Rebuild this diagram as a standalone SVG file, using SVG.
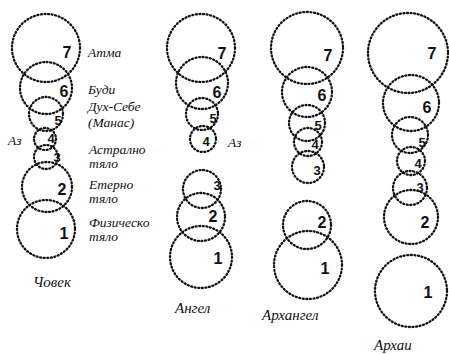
<svg xmlns="http://www.w3.org/2000/svg" width="449" height="354" viewBox="0 0 449 354">
<style>
.c{fill:none;stroke:#111;stroke-width:2.3;stroke-dasharray:1 2.6;stroke-linecap:round}
.n{font-family:"Liberation Sans",Arial,sans-serif;font-weight:bold;font-size:16px;fill:#111;text-anchor:middle}
.s{font-size:13px}
.t{font-family:"Liberation Serif","Times New Roman",serif;font-style:italic;font-size:13.5px;fill:#111}
.h{font-size:15px}
</style>
<rect width="449" height="354" fill="#fff"/>
<g id="chovek">
<g id="ch7"><circle class="c" cx="46" cy="48" r="34"/><text class="n" x="67" y="58">7</text></g>
<g id="ch6"><circle class="c" cx="46" cy="88" r="26"/><text class="n" x="64" y="97">6</text></g>
<g id="ch5"><circle class="c" cx="46" cy="114" r="17"/><text class="n s" x="58" y="125">5</text></g>
<g id="ch4"><circle class="c" cx="45" cy="139" r="11"/><text class="n s" x="51" y="143">4</text></g>
<g id="ch3"><circle class="c" cx="46" cy="157" r="12"/><text class="n s" x="57" y="162">3</text></g>
<g id="ch2"><circle class="c" cx="47" cy="187" r="25"/><text class="n" x="62" y="195">2</text></g>
<g id="ch1"><circle class="c" cx="46" cy="229" r="29"/><text class="n" x="64" y="239">1</text></g>
<text class="t" x="88" y="57">Атма</text>
<text class="t" x="88" y="94">Буди</text>
<text class="t" x="88" y="111">Дух-Себе</text>
<text class="t" x="88" y="127">(Манас)</text>
<text class="t" x="8" y="145">Аз</text>
<text class="t" x="89" y="154">Астрално</text>
<text class="t" x="89" y="168">тяло</text>
<text class="t" x="89" y="189">Етерно</text>
<text class="t" x="89" y="203">тяло</text>
<text class="t" x="89" y="227">Физическо</text>
<text class="t" x="89" y="241">тяло</text>
<text class="t h" x="33" y="287">Човек</text>
</g>
<g id="angel">
<g id="an7"><circle class="c" cx="201" cy="48" r="34"/><text class="n" x="222" y="59">7</text></g>
<g id="an6"><circle class="c" cx="202" cy="83" r="26"/><text class="n" x="217" y="98">6</text></g>
<g id="an5"><circle class="c" cx="202" cy="114" r="16"/><text class="n s" x="213" y="123">5</text></g>
<g id="an4"><circle class="c" cx="203" cy="139" r="13"/><text class="n s" x="206" y="146">4</text></g>
<text class="t" x="228" y="147">Аз</text>
<g id="an3"><circle class="c" cx="202" cy="189" r="19"/><text class="n s" x="217" y="190">3</text></g>
<g id="an2"><circle class="c" cx="201" cy="217" r="24"/><text class="n" x="213" y="222">2</text></g>
<g id="an1"><circle class="c" cx="201" cy="257" r="31"/><text class="n" x="218" y="264">1</text></g>
<text class="t h" x="175" y="313">Ангел</text>
</g>
<g id="arhangel">
<g id="ar7"><circle class="c" cx="307" cy="48" r="36"/><text class="n" x="328" y="61">7</text></g>
<g id="ar6"><circle class="c" cx="307" cy="92" r="25"/><text class="n" x="322" y="101">6</text></g>
<g id="ar5"><circle class="c" cx="307" cy="123" r="18"/><text class="n s" x="318" y="130">5</text></g>
<g id="ar4"><circle class="c" cx="308" cy="142" r="14"/><text class="n s" x="315" y="149">4</text></g>
<g id="ar3"><circle class="c" cx="308" cy="167" r="16"/><text class="n s" x="317" y="175">3</text></g>
<g id="ar2"><circle class="c" cx="307" cy="225" r="24"/><text class="n" x="322" y="228">2</text></g>
<g id="ar1"><circle class="c" cx="308" cy="265" r="34"/><text class="n" x="325" y="274">1</text></g>
<text class="t h" x="262" y="320">Архангел</text>
</g>
<g id="arhai">
<g id="ah7"><circle class="c" cx="408" cy="53" r="40"/><text class="n" x="432" y="59">7</text></g>
<g id="ah6"><circle class="c" cx="411" cy="103" r="28"/><text class="n" x="427" y="113">6</text></g>
<g id="ah5"><circle class="c" cx="410" cy="135" r="18"/><text class="n s" x="422" y="147">5</text></g>
<g id="ah4"><circle class="c" cx="411" cy="161" r="14"/><text class="n s" x="418" y="168">4</text></g>
<g id="ah3"><circle class="c" cx="410" cy="188" r="17"/><text class="n s" x="420" y="192">3</text></g>
<g id="ah2"><circle class="c" cx="411" cy="217" r="27"/><text class="n" x="425" y="228">2</text></g>
<g id="ah1"><circle class="c" cx="411" cy="291" r="36"/><text class="n" x="428" y="298">1</text></g>
<text class="t h" x="374" y="350">Архаи</text>
</g>
</svg>
